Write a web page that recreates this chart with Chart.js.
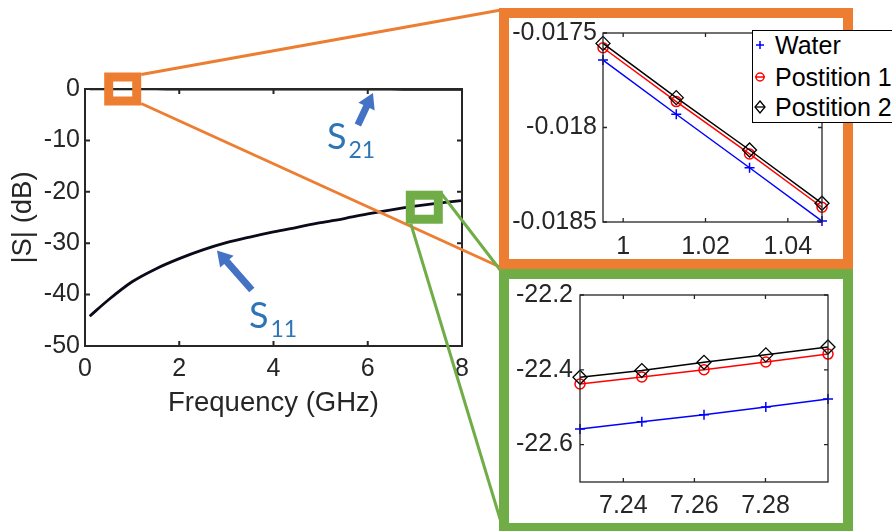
<!DOCTYPE html>
<html lang="en">
<head>
<meta charset="utf-8">
<title>|S| vs frequency</title>
<script src="https://cdn.jsdelivr.net/npm/chart.js@4.4.1/dist/chart.umd.min.js"></script>
<style>
  html, body { margin: 0; padding: 0; background: #fff; }
  #stage { position: relative; width: 892px; height: 531px; overflow: hidden; font-family: "Liberation Sans", Arial, sans-serif; }
  #mainChart { position: absolute; left: 0; top: 0; }
  .frame { position: absolute; box-sizing: border-box; border: 10px solid; background: #fff; }
  .frame canvas { position: absolute; left: 0; top: 0; }
  .slabel { position: absolute; font-family: Lato, "Open Sans", sans-serif; font-size: 36px; line-height: 36px; color: #2E75B6; white-space: nowrap; }
  .slabel span { font-size: 23px; position: relative; top: 9px; margin-left: 2px; }
  #legend { position: absolute; left: 752px; top: 30px; width: 160px; height: 93px; box-sizing: border-box; border: 1px solid #000; background: #fff; font-size: 25px; color: #000; }
  #legend .row { position: absolute; left: 0; height: 30px; line-height: 30px; white-space: nowrap; }
  #legend svg { position: absolute; left: 0; top: 8px; }
  #legend .txt { position: absolute; left: 22px; top: 0; }
</style>
</head>
<body>
<div id="stage">
  <canvas id="mainChart" width="892" height="531"></canvas>
  <div class="slabel" style="left:327px; top:117px">S<span>21</span></div>
  <div class="slabel" style="left:249px; top:296px">S<span>11</span></div>
  <div class="frame" id="orangeFrame"><canvas id="lowChart"></canvas></div>
  <div class="frame" id="greenFrame"><canvas id="highChart"></canvas></div>
  <div id="legend">
    <div class="row" style="top:-1px">
      <svg width="14" height="14"><path d="M3 7H11M7 3V11" stroke="#0000FF" stroke-width="1.5" fill="none"/></svg>
      <span class="txt">Water</span>
    </div>
    <div class="row" style="top:31px">
      <svg width="14" height="14"><circle cx="7" cy="7" r="4" stroke="#FF0000" stroke-width="1.5" fill="none"/><path d="M2 7H12" stroke="#FF0000" stroke-width="1.5"/></svg>
      <span class="txt">Postition 1</span>
    </div>
    <div class="row" style="top:61px">
      <svg width="14" height="14"><path d="M7 1L12 7L7 13L2 7Z" stroke="#000" stroke-width="1.3" fill="none"/><path d="M2 7H12" stroke="#000" stroke-width="1.3"/></svg>
      <span class="txt">Postition 2</span>
    </div>
  </div>
</div>
<script>
// full sweep, main plot
const freq = [0.1, 0.5, 1, 1.5, 2, 2.5, 3, 3.5, 4, 4.5, 5, 5.5, 6, 6.5, 7, 7.5, 8];
const s11 = [-44.2, -41.0, -37.5, -35.0, -33.0, -31.3, -29.9, -28.8, -27.8, -26.9, -26.0, -25.2, -24.3, -23.5, -22.8, -22.2, -21.7];
const s21 = [-0.001, -0.006, -0.018, -0.022, -0.027, -0.032, -0.037, -0.042, -0.047, -0.052, -0.057, -0.062, -0.067, -0.072, -0.077, -0.082, -0.087];
const mainXTicks = [0, 2, 4, 6, 8];
const mainYTicks = [0, -10, -20, -30, -40, -50];

// zoom near 1 GHz (S21)
const lowFreq = [0.9951, 1.0129, 1.0307, 1.0483];
const lowWater = [-0.017643, -0.01793, -0.018213, -0.018495];
const lowPos1 = [-0.017578, -0.017863, -0.01814, -0.018422];
const lowPos2 = [-0.017555, -0.017842, -0.018119, -0.018401];
const lowXTicks = [1, 1.02, 1.04];
const lowYTicks = [-0.0175, -0.018, -0.0185];

// zoom near 7.26 GHz (S11)
const highFreq = [7.2278, 7.2452, 7.2627, 7.2801, 7.2976];
const highWater = [-22.558, -22.539, -22.52, -22.4995, -22.478];
const highPos1 = [-22.438, -22.419, -22.4, -22.379, -22.358];
const highPos2 = [-22.42, -22.402, -22.38, -22.36, -22.339];
const highXTicks = [7.24, 7.26, 7.28];
const highYTicks = [-22.2, -22.4, -22.6];

const seriesNames = ['Water', 'Postition 1', 'Postition 2'];

// layout of the callouts
const ORANGE = '#ED7D31';
const GREEN = '#70AD47';
const ARROW = '#4472C4';
const axisColor = '#262626';
const FRAME_BORDER = 10;
const orangeFrame = { left: 499, top: 8, width: 354, height: 261 };
const greenFrame = { left: 499, top: 269, width: 354, height: 264 };
const orangeSpot = [0.8, 0];
const greenSpot = [7.2, -23];
const s21Arrow = [[5.79, -7.0], [6.11, -0.78]];
const s11Arrow = [[3.54, -39.1], [2.8, -31.4]];

Chart.defaults.font.family = '"Liberation Sans", Arial, sans-serif';
Chart.defaults.color = axisColor;

function placeFrame(id, rect, color) {
  const el = document.getElementById(id);
  el.style.left = rect.left + 'px';
  el.style.top = rect.top + 'px';
  el.style.width = rect.width + 'px';
  el.style.height = rect.height + 'px';
  el.style.borderColor = color;
  const canvas = el.querySelector('canvas');
  canvas.width = rect.width - 2 * FRAME_BORDER;
  canvas.height = rect.height - 2 * FRAME_BORDER;
}

function fixSize(size, horizontal) {
  return (scale) => {
    if (horizontal) scale.height = size;
    else scale.width = size;
    scale.paddingLeft = 0;
    scale.paddingRight = 0;
    scale.paddingTop = 0;
    scale.paddingBottom = 0;
  };
}

function linearAxis(min, max, tickValues, pad, fit) {
  return {
    type: 'linear',
    min: min,
    max: max,
    grid: { display: false, drawTicks: false },
    border: { display: false },
    afterBuildTicks: (scale) => {
      scale.ticks = tickValues.map((v) => ({ value: v }));
    },
    afterFit: fit,
    ticks: {
      autoSkip: false,
      maxRotation: 0,
      padding: pad,
      color: axisColor,
      font: { size: 25 },
      callback: (v) => String(v),
    },
  };
}

// MATLAB style box with inward ticks on all sides
const boxAxes = {
  id: 'boxAxes',
  afterDatasetsDraw(chart, args, opts) {
    const { ctx, chartArea: a } = chart;
    const { x, y } = chart.scales;
    ctx.save();
    ctx.strokeStyle = axisColor;
    ctx.lineWidth = opts.width;
    ctx.beginPath();
    x.ticks.forEach((t) => {
      const px = x.getPixelForValue(t.value);
      ctx.moveTo(px, a.bottom);
      ctx.lineTo(px, a.bottom - opts.tick);
      ctx.moveTo(px, a.top);
      ctx.lineTo(px, a.top + opts.tick);
    });
    y.ticks.forEach((t) => {
      const py = y.getPixelForValue(t.value);
      ctx.moveTo(a.left, py);
      ctx.lineTo(a.left + opts.tick, py);
      ctx.moveTo(a.right, py);
      ctx.lineTo(a.right - opts.tick, py);
    });
    ctx.stroke();
    ctx.strokeRect(a.left, a.top, a.right - a.left, a.bottom - a.top);
    ctx.restore();
  },
};

function drawArrow(ctx, from, to) {
  const dx = to[0] - from[0];
  const dy = to[1] - from[1];
  const len = Math.hypot(dx, dy);
  const ux = dx / len, uy = dy / len;
  const nx = -uy, ny = ux;
  const head = 15, half = 9, shaft = 3.5;
  const bx = to[0] - ux * head, by = to[1] - uy * head;
  ctx.beginPath();
  ctx.moveTo(from[0] + nx * shaft, from[1] + ny * shaft);
  ctx.lineTo(bx + nx * shaft, by + ny * shaft);
  ctx.lineTo(bx + nx * half, by + ny * half);
  ctx.lineTo(to[0], to[1]);
  ctx.lineTo(bx - nx * half, by - ny * half);
  ctx.lineTo(bx - nx * shaft, by - ny * shaft);
  ctx.lineTo(from[0] - nx * shaft, from[1] - ny * shaft);
  ctx.closePath();
  ctx.fill();
}

function line(ctx, a, b) {
  ctx.beginPath();
  ctx.moveTo(a[0], a[1]);
  ctx.lineTo(b[0], b[1]);
  ctx.stroke();
}

// arrows, zoom squares and the lines out to the insets
const callouts = {
  id: 'callouts',
  afterDraw(chart) {
    const { ctx } = chart;
    const { x, y } = chart.scales;
    const px = (p) => [x.getPixelForValue(p[0]), y.getPixelForValue(p[1])];
    const w = 37, h = 33, lw = 9;

    ctx.save();
    ctx.fillStyle = ARROW;
    drawArrow(ctx, px(s21Arrow[0]), px(s21Arrow[1]));
    drawArrow(ctx, px(s11Arrow[0]), px(s11Arrow[1]));

    const o = px(orangeSpot);
    const g = px(greenSpot);
    const oBox = { l: o[0] - w / 2, r: o[0] + w / 2, t: o[1] - h / 2, b: o[1] + h / 2 };
    const gBox = { l: g[0] - w / 2, r: g[0] + w / 2, t: g[1] - h / 2, b: g[1] + h / 2 };

    ctx.lineWidth = 3;
    ctx.strokeStyle = ORANGE;
    line(ctx, [oBox.r, oBox.t + 2], [orangeFrame.left + 2, orangeFrame.top + 2]);
    line(ctx, [oBox.r, oBox.b - 2], [orangeFrame.left + 1, orangeFrame.top + orangeFrame.height - 2]);
    ctx.strokeStyle = GREEN;
    line(ctx, [gBox.r - 2, gBox.t + 2], [greenFrame.left + 2, greenFrame.top + 2]);
    line(ctx, [gBox.l + 5, gBox.b], [greenFrame.left + 2, greenFrame.top + greenFrame.height - FRAME_BORDER - 1]);

    ctx.lineWidth = lw;
    ctx.strokeStyle = ORANGE;
    ctx.strokeRect(oBox.l + lw / 2, oBox.t + lw / 2, w - lw, h - lw);
    ctx.strokeStyle = GREEN;
    ctx.strokeRect(gBox.l + lw / 2, gBox.t + lw / 2, w - lw, h - lw);
    ctx.restore();
  },
};

function points(xs, ys) {
  return xs.map((f, i) => ({ x: f, y: ys[i] }));
}

function insetDatasets(xs, water, pos1, pos2) {
  const clear = 'rgba(0,0,0,0)';
  return [
    { label: seriesNames[0], data: points(xs, water), borderColor: '#0000FF', borderWidth: 1.5,
      pointStyle: 'cross', pointRadius: 5, pointBorderColor: '#0000FF', pointBorderWidth: 1.5,
      pointBackgroundColor: clear, clip: false, order: 2 },
    { label: seriesNames[1], data: points(xs, pos1), borderColor: '#FF0000', borderWidth: 1.5,
      pointStyle: 'circle', pointRadius: 5, pointBorderColor: '#FF0000', pointBorderWidth: 1.5,
      pointBackgroundColor: clear, clip: false, order: 1 },
    { label: seriesNames[2], data: points(xs, pos2), borderColor: '#000000', borderWidth: 1.5,
      pointStyle: 'rectRot', pointRadius: 7, pointBorderColor: '#000000', pointBorderWidth: 1.3,
      pointBackgroundColor: clear, clip: false, order: 0 },
  ];
}

function insetChart(id, xs, sets, xTicks, yTicks, yRange, area) {
  return new Chart(document.getElementById(id), {
    type: 'line',
    data: { datasets: insetDatasets(xs, sets[0], sets[1], sets[2]) },
    options: {
      responsive: false,
      animation: false,
      layout: { padding: { left: 0, top: area.top, right: area.right, bottom: 0 } },
      scales: {
        x: linearAxis(xs[0], xs[xs.length - 1], xTicks, area.xPad, fixSize(area.xHeight, true)),
        y: linearAxis(yRange[0], yRange[1], yTicks, area.yPad, fixSize(area.yWidth, false)),
      },
      plugins: {
        legend: { display: false },
        tooltip: { enabled: false },
        boxAxes: { width: 1.3, tick: 4 },
      },
    },
    plugins: [boxAxes],
  });
}

placeFrame('orangeFrame', orangeFrame, ORANGE);
placeFrame('greenFrame', greenFrame, GREEN);

new Chart(document.getElementById('mainChart'), {
  type: 'line',
  data: {
    datasets: [
      { label: 'S21', data: points(freq, s21), borderColor: '#000000', borderWidth: 2.5, pointRadius: 0, cubicInterpolationMode: 'monotone' },
      { label: 'S11', data: points(freq, s11), borderColor: '#0a0a1a', borderWidth: 2.8, pointRadius: 0, cubicInterpolationMode: 'monotone' },
    ],
  },
  options: {
    responsive: false,
    animation: false,
    layout: { padding: { left: 0, top: 89, right: 430, bottom: 110 } },
    scales: {
      x: Object.assign(linearAxis(0, 8, mainXTicks, 8, fixSize(75, true)), {
        title: { display: true, text: 'Frequency (GHz)', color: axisColor, font: { size: 27.5 }, padding: { top: 0, bottom: 1.5 } },
      }),
      y: Object.assign(linearAxis(-50, 0, mainYTicks, 5, fixSize(85, false)), {
        title: { display: true, text: '|S| (dB)', color: axisColor, font: { size: 27.5 }, padding: { top: 6.5, bottom: 0 } },
      }),
    },
    plugins: {
      legend: { display: false },
      tooltip: { enabled: false },
      boxAxes: { width: 2, tick: 5 },
    },
  },
  plugins: [boxAxes, callouts],
});

insetChart('lowChart', lowFreq, [lowWater, lowPos1, lowPos2], lowXTicks, lowYTicks, [-0.0185, -0.0175],
  { top: 15, right: 21, xHeight: 37, yWidth: 94, xPad: 10, yPad: 6 });
insetChart('highChart', highFreq, [highWater, highPos1, highPos2], highXTicks, highYTicks, [-22.7, -22.2],
  { top: 16, right: 15, xHeight: 41, yWidth: 71, xPad: 9, yPad: 7 });
</script>
</body>
</html>
